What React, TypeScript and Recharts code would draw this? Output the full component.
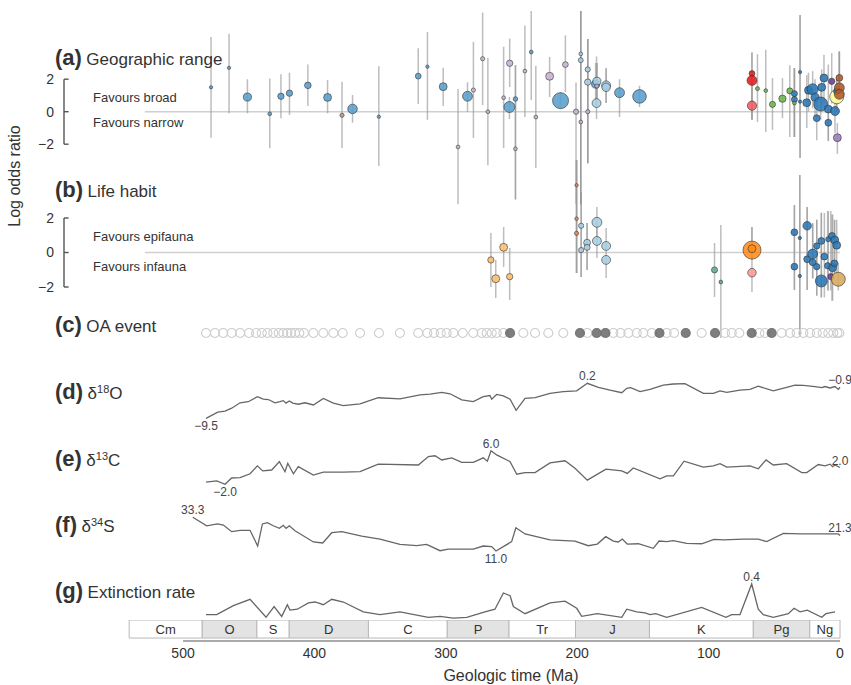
import React from "react";
import {
  ScatterChart,
  Scatter,
  LineChart,
  Line,
  ComposedChart,
  XAxis,
  YAxis,
  ZAxis,
  ErrorBar,
  Cell,
  ReferenceLine,
  ReferenceDot,
  ReferenceArea,
} from "recharts";

// ---------- data (ages in Ma) ----------

// geographic range: [age, log odds, lower, upper, weight, group]
type Pt = [number, number, number, number, number, string];

const geoRange: Pt[] = [
  [478.7, 1.5, -1.6, 4.6, 1, "blue"],
  [465, 2.7, -0.1, 4.8, 1, "blue"],
  [451, 0.9, -0.1, 2.0, 18, "blue"],
  [434, -0.13, -2.25, 2.05, 2, "blue"],
  [425.5, 0.95, -0.4, 2.3, 10, "blue"],
  [419, 1.14, -0.2, 2.4, 10, "blue"],
  [405, 1.62, 0.35, 2.9, 11, "blue"],
  [390, 0.88, -0.1, 1.95, 17, "blue"],
  [379, -0.22, -2.24, 1.85, 3, "taupe"],
  [371, 0.17, -0.68, 1.03, 26, "blue"],
  [351, -0.31, -3.34, 2.8, 1, "blue"],
  [321, 2.19, 0.48, 3.9, 8, "blue"],
  [314, 2.77, -0.5, 4.9, 1, "blue"],
  [302, 1.54, 0.35, 2.7, 17, "blue"],
  [290.7, -2.17, -5.7, 1.4, 2, "lilac"],
  [283.5, 0.95, -0.02, 1.82, 28, "blue"],
  [279, 1.33, -1.62, 4.3, 3, "lilac"],
  [272, 3.26, 0.41, 6.1, 3, "lilac"],
  [268, 0.0, -3.3, 3.3, 2, "lilac"],
  [256, 0.86, -2.23, 4.0, 2, "lilac"],
  [251.4, 2.98, 1.52, 4.5, 10, "lilac"],
  [251.6, 0.29, -0.45, 0.9, 35, "blue"],
  [247, 0.78, -5.4, 2.87, 4, "blue"],
  [247, -2.28, -5.4, 2.87, 2, "lilac"],
  [239.8, 2.5, -0.33, 5.3, 2, "lilac"],
  [235, 3.67, 0.72, 6.2, 2, "blue"],
  [231.5, -0.33, -3.46, 2.82, 2, "lilac"],
  [221, 2.18, 0.9, 3.37, 17, "lilac"],
  [212.7, 0.68, 0.2, 1.2, 77, "blue"],
  [209, 2.9, 1.2, 4.7, 8, "lilac"],
  [200.9, 0.0, -5.7, 1.8, 6, "lilac"],
  [197.3, 3.56, -5.7, 6.2, 2, "lightBlue"],
  [197.3, 3.17, -5.7, 6.2, 5, "lightBlue"],
  [197.3, -0.63, -5.7, 6.2, 2, "lilac"],
  [192, 2.6, -3.17, 4.47, 6, "lightBlue"],
  [192, 1.82, -3.17, 4.47, 10, "lightBlue"],
  [192, 0.0, -3.17, 4.47, 3, "lilac"],
  [186, 1.7, 0.4, 3.0, 18, "blue"],
  [185, 1.87, 0.8, 3.0, 18, "lightBlue"],
  [185, 1.58, 0.8, 3.0, 3, "lilac"],
  [185.3, 0.53, -0.45, 3.4, 22, "lightBlue"],
  [178, 1.62, 0.54, 2.68, 22, "lightBlue"],
  [178, 1.5, 0.54, 2.68, 20, "lightBlue"],
  [167.8, 1.17, -0.33, 2.0, 28, "blue"],
  [152.6, 0.94, 0.29, 1.6, 55, "blue"],
  [67, 2.35, -0.5, 3.65, 8, "red"],
  [67, 1.92, -0.5, 3.65, 28, "red"],
  [67, 0.37, -0.5, 1.5, 24, "salmon"],
  [62.8, 1.42, -0.63, 3.54, 2.5, "green"],
  [56.5, 1.3, -1.25, 3.82, 2, "green"],
  [51.4, 0.45, -1.12, 2.07, 9, "green"],
  [43.8, 0.8, -0.4, 2.07, 14, "green"],
  [38.2, 1.28, -1.56, 2.86, 9, "green"],
  [34.7, 1.11, -1.56, 2.68, 9, "darkBlue"],
  [34.7, 0.75, -1.56, 2.68, 9, "darkBlue"],
  [34.7, 0.53, -1.56, 2.68, 2, "green"],
  [30.4, 2.44, -2.85, 5.95, 1, "darkBlue"],
  [30.4, 0.62, -2.85, 5.95, 1, "darkBlue"],
  [25.3, 0.55, -1.0, 2.25, 17, "darkBlue"],
  [24, 1.32, 0.0, 2.4, 17, "darkBlue"],
  [20.8, 1.38, 0.2, 2.5, 35, "darkBlue"],
  [19, 0.89, -0.2, 2.0, 18, "darkBlue"],
  [17.7, -0.4, -1.76, 0.7, 12, "darkBlue"],
  [14.7, 0.47, -0.5, 1.4, 58, "darkBlue"],
  [13.9, 1.5, 0.3, 2.6, 17, "darkBlue"],
  [12.2, 2.07, 0.5, 3.5, 17, "darkBlue"],
  [8.9, -0.68, -1.8, 0.3, 12, "darkBlue"],
  [8.9, 0.16, -1.8, 2.9, 17, "darkBlue"],
  [6.3, 1.87, 0.5, 3.6, 10, "purple"],
  [3.8, 0.04, -1.3, 1.2, 22, "darkBlue"],
  [2.5, 0.92, 0.0, 2.0, 58, "yellow"],
  [2.5, 1.26, 0.0, 2.0, 10, "darkBlue"],
  [0.5, 2.08, 0.6, 3.7, 12, "brown"],
  [0.5, 1.47, 0.6, 3.7, 28, "brown"],
  [0.5, 1.07, 0.6, 3.7, 28, "brown"],
  [2, -1.6, -2.6, -0.7, 17, "lavender"],
];

// life habit: [age, log odds, lower, upper, weight, group]
const lifeHabit: Pt[] = [
  [265.7, -0.43, -2.0, 1.13, 10, "peach"],
  [256, 0.3, -0.84, 1.48, 17, "peach"],
  [262, -1.52, -2.64, -0.43, 17, "peach"],
  [251.4, -1.4, -2.75, 0.26, 10, "peach"],
  [200.5, 3.9, -1.19, 5.36, 1, "ochre"],
  [200.5, 1.96, -1.19, 5.36, 1.5, "ochre"],
  [200.5, 1.11, -1.19, 5.36, 3, "ochre"],
  [197, 1.55, -1.42, 3.5, 6, "lightBlue"],
  [197, 0.14, -1.42, 3.5, 6, "lightBlue"],
  [192.5, 0.57, -1.01, 1.71, 12, "lightBlue"],
  [192.5, 0.3, -1.01, 1.71, 9, "lightBlue"],
  [185, 1.75, 0.72, 2.64, 28, "lightBlue"],
  [185, 0.67, -0.32, 1.77, 22, "lightBlue"],
  [178, 0.38, 0.14, 1.42, 22, "lightBlue"],
  [178, -0.43, -1.48, 0.14, 22, "lightBlue"],
  [95.5, -1.01, -2.58, 0.55, 9, "teal"],
  [90.7, -1.71, -4.96, 1.59, 2, "teal"],
  [67, 0.14, -0.43, 1.48, 98, "orange"],
  [67, 0.22, -0.43, 1.48, 17, "orange"],
  [67, -1.17, -2.29, -0.4, 20, "pink"],
  [34.7, 1.17, -2.17, 2.75, 12, "darkBlue"],
  [30.6, 0.84, -4.9, 4.49, 1, "darkBlue"],
  [30.6, -1.36, -4.9, 4.49, 1, "darkBlue"],
  [34.7, -0.82, -2.17, 2.75, 12, "darkBlue"],
  [25, 1.55, -2.17, 2.64, 20, "darkBlue"],
  [25, -0.39, -2.17, 2.64, 12, "darkBlue"],
  [20.8, -0.09, -1.5, 1.7, 28, "darkBlue"],
  [20.8, -0.57, -1.5, 1.7, 12, "darkBlue"],
  [17.7, 0.38, -2.5, 1.9, 10, "darkBlue"],
  [17.7, -0.82, -2.5, 1.9, 10, "darkBlue"],
  [14.2, 0.67, -2.6, 2.3, 12, "darkBlue"],
  [14.2, -1.65, -2.6, 2.3, 42, "darkBlue"],
  [11.9, -0.24, -2.6, 2.3, 12, "darkBlue"],
  [8.9, 0.77, -2.2, 2.4, 6, "darkBlue"],
  [9.4, -0.77, -2.2, 2.4, 10, "darkBlue"],
  [6.1, 0.96, -2.8, 2.2, 12, "darkBlue"],
  [5.6, -0.88, -2.8, 2.2, 17, "darkBlue"],
  [4.3, -0.63, -1.2, 1.9, 12, "darkBlue"],
  [4, 0.72, -1.2, 1.9, 17, "darkBlue"],
  [2.5, 0.42, -1.2, 1.9, 17, "darkBlue"],
  [7, -1.4, -2.2, 2.4, 9, "purple"],
  [1.3, -1.55, -2.2, -0.6, 58, "tan"],
];

// ocean acidification events
const oaEvents = [
  482.5, 475.7, 469.4, 463, 456.6, 449.8, 444.4, 440.1, 435.8, 431.3, 427.2,
  423.7, 420.6, 417.8, 414.8, 411.5, 408, 400.8, 393.2, 385.6, 378.5, 365.3,
  350.9, 334.9, 321, 314.1, 309, 303.9, 299.4, 294.3, 287.1, 279.1, 272.7,
  268.9, 265.1, 261.3, 256.2, 241, 232.1, 222, 210.6, 192.3, 172.5, 167, 161,
  154.7, 149.7, 143.3, 131.9, 126.3, 105.3, 87.5, 82.4, 76.6, 61.4, 57.1, 44.4,
  38, 33, 27.9, 22.8, 17.7, 13.2, 8.9, 5.1, 2, 0.5,
];
const oaMajor = [251.1, 197.9, 185.2, 178.5, 137.4, 117.4, 95.1, 67.2, 52];

const d18O: [number, number][] = [
  [482.5, -9.5], [473.6, -7.8], [468, -7.5], [463, -6.7], [456.6, -5.2],
  [450.3, -4.9], [443.4, -3.5], [438.9, -4.2], [435.1, -4.3], [430, -5.2],
  [426.2, -4.9], [423.7, -4.6], [421.6, -5.3], [419.1, -4.7], [416.5, -5.3],
  [412.3, -5.6], [407.2, -5.2], [400.8, -5.8], [393.2, -4.0], [385.6, -5.3],
  [378, -6.0], [365.3, -5.5], [351.4, -3.8], [334.9, -4.1], [319.6, -3.0],
  [312, -2.8], [303.1, -2.3], [296.8, -2.7], [287.9, -4.4], [279.1, -4.9],
  [271.5, -3.5], [266.4, -3.2], [265.1, -4.2], [261.3, -2.9], [256.2, -3.3],
  [251.1, -4.2], [246.5, -7.3], [239.7, -4.0], [232.1, -3.8], [220.7, -2.6],
  [210.6, -2.1], [200.4, -1.9], [192.3, 0.2], [183.9, -0.9], [175, -1.7],
  [166.1, -2.4], [162.3, -1.2], [159.3, -1.0], [152.2, -2.1], [144.6, -1.5],
  [134.5, -0.3], [126.9, 0.0], [118, 0.1], [104, -2.6], [96.4, -2.6],
  [91.3, -1.9], [86.2, -2.3], [76.1, -1.7], [68.5, -1.5], [62.2, -0.6],
  [50.8, -1.9], [40.6, -0.9], [34.2, -0.3], [27.9, -0.4], [19, -0.7],
  [13.9, -1.0], [11.4, -0.7], [7.6, -1.1], [3.8, -0.7], [1.3, -1.5], [0, -0.9],
];

const d13C: [number, number][] = [
  [482.5, -1.5], [474.4, -1.2], [468, -2.0], [463, -0.5], [456.6, -0.4],
  [449, 0.5], [443.4, 2.4], [439.4, 1.2], [432.5, 1.4], [426.7, 3.4],
  [422.4, 1.0], [420.3, 3.0], [416, 0.5], [412.3, 2.2], [400.8, 0.2],
  [393.2, 0.9], [378, 0.9], [365.3, 1.0], [351.4, 2.8], [320.9, 2.6],
  [313.3, 4.6], [308.2, 4.8], [303.1, 3.8], [295.5, 4.3], [287.9, 3.2],
  [279.1, 3.2], [271.5, 4.3], [268.4, 3.5], [265.6, 6.0], [261.3, 5.0],
  [252.4, 3.6], [251.1, 3.4], [246, 0.4], [239.7, 0.8], [232.1, 0.8],
  [220.7, 3.1], [209.3, 3.6], [201.7, 1.8], [192.3, -1.0], [178.1, 1.6],
  [166.1, 1.2], [161.9, 0.6], [157.3, 1.9], [137, -0.7], [131.9, 0.0],
  [126.8, 0.0], [118.7, 3.5], [104, 2.1], [96.4, 2.4], [91.3, 2.9],
  [86.2, 2.1], [68.5, 2.4], [62.2, 1.7], [56.3, 3.8], [50.8, 2.6],
  [40.6, 2.9], [29.1, 0.8], [25.3, 0.8], [16.5, 2.7], [11.4, 2.4],
  [7.6, 2.8], [5.6, 2.2], [3.8, 2.6], [0, 2.0],
];

const d34S: [number, number][] = [
  [492.6, 33.3], [482, 27.7], [473.9, 28.9], [469.3, 28.2], [463, 23.8],
  [456.6, 24.7], [449, 24.7], [443.2, 14.3], [439.6, 28.9], [435.9, 29.7],
  [431.3, 27.7], [426.7, 26.0], [423.7, 28.0], [421.6, 26.0], [419.1, 27.7],
  [414.8, 24.4], [400.8, 17.0], [393.7, 16.3], [386.8, 23.1], [379.2, 23.8],
  [364, 20.9], [350.1, 18.9], [334.9, 15.4], [322.2, 14.5], [314.6, 15.4],
  [304.4, 11.2], [298.1, 12.3], [279.1, 12.3], [271.5, 14.3], [265.1, 13.9],
  [261.8, 11.0], [249.9, 17.2], [246.7, 26.4], [239.7, 22.3], [220.7, 18.3],
  [201.7, 17.6], [191.6, 14.5], [184.7, 15.6], [178.3, 20.5], [172.5, 17.6],
  [168.7, 17.0], [165.7, 18.9], [161.9, 15.6], [153.5, 15.8], [142.1, 12.8],
  [137.7, 17.6], [131.9, 17.2], [126.9, 17.8], [116.7, 16.1], [105.3, 15.8],
  [95.9, 18.7], [88.8, 18.3], [73.6, 18.9], [62.2, 18.9], [55.8, 17.2],
  [43.1, 22.7], [30.4, 22.3], [15.2, 22.3], [1.3, 22.3], [0, 21.3],
];

const extinction: [number, number][] = [
  [482.5, 0.06], [474.4, 0.06], [461.7, 0.16], [449, 0.23], [436.8, 0.03],
  [430.7, 0.15], [424.9, 0.04], [420.6, 0.17], [418.6, 0.11], [413, 0.12],
  [404.6, 0.19], [399.5, 0.2], [393.2, 0.17], [386.8, 0.23], [378, 0.2],
  [362.8, 0.09], [350.1, 0.06], [334.9, 0.09], [313.3, 0.03], [304.4, 0.04],
  [294.3, 0.02], [284.1, 0.03], [270.2, 0.09], [262.6, 0.12], [256.2, 0.3],
  [251.1, 0.27], [248.6, 0.15], [239.7, 0.07], [220.7, 0.19], [209.3, 0.21],
  [200.4, 0.13], [196.6, 0.04], [184.7, 0.07], [166.1, 0.03], [162.3, 0.12],
  [154.7, 0.09], [148.4, 0.08], [144.6, 0.06], [140.3, 0.07], [131.9, 0.03],
  [105.3, 0.14], [86.8, 0.03], [82.4, 0.06], [76.1, 0.06], [67.2, 0.4],
  [62.2, 0.12], [58.4, 0.06], [50.8, 0.03], [39.3, 0.07], [35, 0.13],
  [30.4, 0.09], [24.9, 0.11], [13.9, 0.03], [10.7, 0.07], [3.8, 0.09],
];

// geologic periods: [name, start, end]
const periods: [string, number, number][] = [
  ["Cm", 541, 485.4], ["O", 485.4, 443.8], ["S", 443.8, 419.2],
  ["D", 419.2, 358.9], ["C", 358.9, 298.9], ["P", 298.9, 251.9],
  ["Tr", 251.9, 201.3], ["J", 201.3, 145], ["K", 145, 66],
  ["Pg", 66, 23], ["Ng", 23, 0],
];

const timeTicks = [500, 400, 300, 200, 100, 0];
const oddsTicks = [-2, 0, 2];

// ---------- styling ----------

const FONT = '"Liberation Sans", Arial, Helvetica, sans-serif';
const TEXT = "#333";
const X_MAX = 590.6; // age at the left edge of the plotting area
const MARGIN = { top: 0, right: 11, bottom: 0, left: 0 };
const MARGIN_NO_Y = { top: 0, right: 11, bottom: 0, left: 64 };

const GROUP_FILL: Record<string, string> = {
  blue: "#5a9fcd",
  darkBlue: "#2a78b6",
  lightBlue: "#a6cee3",
  lilac: "#cab2d6",
  taupe: "#b59d95",
  red: "#e31a1c",
  salmon: "#f25c5e",
  green: "#6cb650",
  orange: "#ff8c1a",
  peach: "#fdbf6f",
  ochre: "#ef8a4c",
  pink: "#fb9a99",
  teal: "#5fae94",
  brown: "#b15928",
  yellow: "#ffff99",
  purple: "#6a3d9a",
  lavender: "#9a7cc0",
  tan: "#d6a95a",
};

const toRows = (pts: Pt[]) =>
  pts.map(([age, lor, lo, hi, w, group]) => ({
    age,
    lor,
    w,
    group,
    err: [lor - lo, hi - lor],
  }));

const toLine = (pts: [number, number][]) => pts.map(([age, v]) => ({ age, v }));

const fmt = (v: number) => v.toFixed(1).replace("-", "\u2212");

function OddsPanel({ top, height, domain, pts }: { top: number; height: number; domain: [number, number]; pts: Pt[] }) {
  const rows = toRows(pts);
  const bracket = "#555";
  return (
    <div style={{ position: "absolute", left: 0, top }}>
      <ScatterChart width={851} height={height} margin={MARGIN}>
        <XAxis type="number" dataKey="age" domain={[0, X_MAX]} reversed hide />
        <YAxis
          type="number"
          dataKey="lor"
          domain={domain}
          ticks={oddsTicks}
          width={64}
          axisLine={false}
          tickLine={false}
          tickSize={0}
          tickMargin={10}
          tickFormatter={(v: number) => (v < 0 ? `\u2212${-v}` : `${v}`)}
          tick={{ fontSize: 14, fill: TEXT }}
        />
        <ZAxis type="number" dataKey="w" domain={[0, 100]} range={[6, 260]} />
        <ReferenceLine
          segment={[{ x: 529, y: 0 }, { x: 0, y: 0 }]}
          stroke="#cfcfcf"
          strokeWidth={1.4}
          ifOverflow="visible"
        />
        <ReferenceLine segment={[{ x: X_MAX, y: -2 }, { x: X_MAX, y: 2 }]} stroke={bracket} strokeWidth={1.4} ifOverflow="visible" />
        {oddsTicks.map((t) => (
          <ReferenceLine
            key={t}
            segment={[{ x: X_MAX, y: t }, { x: X_MAX - 3.5, y: t }]}
            stroke={bracket}
            strokeWidth={1.4}
            ifOverflow="visible"
          />
        ))}
        <Scatter data={rows} isAnimationActive={false} stroke="#333" strokeWidth={0.6} fillOpacity={0.88}>
          {rows.map((r, i) => (
            <Cell key={i} fill={GROUP_FILL[r.group]} />
          ))}
          <ErrorBar dataKey="err" direction="y" width={0} stroke="#9a9a9a" strokeOpacity={0.65} strokeWidth={1.5} />
        </Scatter>
      </ScatterChart>
    </div>
  );
}

function ProxyPanel({
  top,
  height,
  domain,
  pts,
  marks,
}: {
  top: number;
  height: number;
  domain: [number, number];
  pts: [number, number][];
  marks: ("min" | "max" | "end")[];
}) {
  const rows = toLine(pts);
  const vals = rows.map((r) => r.v);
  const lo = Math.min(...vals);
  const hi = Math.max(...vals);
  const pick = {
    min: rows.find((r) => r.v === lo)!,
    max: rows.find((r) => r.v === hi)!,
    end: rows[rows.length - 1],
  };
  return (
    <div style={{ position: "absolute", left: 0, top }}>
      <LineChart width={851} height={height} data={rows} margin={MARGIN_NO_Y}>
        <XAxis type="number" dataKey="age" domain={[0, X_MAX]} reversed hide />
        <YAxis type="number" domain={domain} hide />
        <Line
          type="linear"
          dataKey="v"
          stroke="#666"
          strokeWidth={1.3}
          dot={false}
          isAnimationActive={false}
        />
        {marks.map((m) => (
          <ReferenceDot
            key={m}
            x={pick[m].age}
            y={pick[m].v}
            r={0}
            stroke="none"
            fill="none"
            ifOverflow="visible"
            label={{
              value: fmt(pick[m].v),
              position: m === "min" ? "bottom" : "top",
              offset: 3,
              fontSize: 12,
              fill: "#444",
            }}
          />
        ))}
      </LineChart>
    </div>
  );
}

function OaPanel() {
  const rows = [
    ...oaEvents.map((age) => ({ age, y: 0, major: false })),
    ...oaMajor.map((age) => ({ age, y: 0, major: true })),
  ];
  return (
    <div style={{ position: "absolute", left: 0, top: 318 }}>
      <ScatterChart width={851} height={30} margin={MARGIN_NO_Y}>
        <XAxis type="number" dataKey="age" domain={[0, X_MAX]} reversed hide />
        <YAxis type="number" dataKey="y" domain={[-1, 1]} hide />
        <ZAxis range={[56, 56]} />
        <Scatter data={rows} isAnimationActive={false} strokeWidth={1.1}>
          {rows.map((r, i) => (
            <Cell
              key={i}
              fill={r.major ? "#5e5e5e" : "#ffffff"}
              fillOpacity={r.major ? 0.8 : 0}
              stroke={r.major ? "#777" : "#cdcdcd"}
            />
          ))}
        </Scatter>
      </ScatterChart>
    </div>
  );
}

function TimeScale() {
  const mids = periods.map(([name, start, end]) => ({ name, age: (start + end) / 2, y: 0.57 }));
  return (
    <div style={{ position: "absolute", left: 0, top: 620 }}>
      <ComposedChart width={851} height={65} data={mids} margin={MARGIN_NO_Y}>
        <XAxis
          type="number"
          dataKey="age"
          domain={[0, X_MAX]}
          reversed
          ticks={timeTicks}
          interval={0}
          axisLine={false}
          tickLine={false}
          tickSize={0}
          tickMargin={7}
          height={44}
          tick={{ fontSize: 14, fill: TEXT }}
        />
        <YAxis type="number" dataKey="y" domain={[0, 1]} hide />
        {periods.map(([name, start, end], i) => (
          <ReferenceArea
            key={name}
            x1={start}
            x2={end}
            y1={0.14}
            y2={1}
            fill={i % 2 === 1 ? "#e3e3e3" : "#ffffff"}
            fillOpacity={1}
            stroke="#b8b8b8"
            strokeWidth={1}
            ifOverflow="visible"
            label={{ value: name, position: "center", fontSize: 13, fill: TEXT }}
          />
        ))}
        <ReferenceLine
          segment={[{ x: 500, y: 0 }, { x: 0, y: 0 }]}
          stroke="#555"
          strokeWidth={1.2}
          ifOverflow="visible"
        />
        <Scatter dataKey="y" isAnimationActive={false} shape={() => <g />} />
      </ComposedChart>
    </div>
  );
}

function Title({ tag, top, children }: { tag: string; top: number; children: React.ReactNode }) {
  return (
    <div style={{ position: "absolute", left: 55, top, lineHeight: "26px", whiteSpace: "nowrap", color: TEXT }}>
      <b style={{ fontSize: 22 }}>{tag}</b> <span style={{ fontSize: 17 }}>{children}</span>
    </div>
  );
}

function Note({ top, children }: { top: number; children: React.ReactNode }) {
  return (
    <div style={{ position: "absolute", left: 93, top, fontSize: 13, lineHeight: "16px", color: TEXT, whiteSpace: "nowrap" }}>
      {children}
    </div>
  );
}

const sup = { fontSize: 11, verticalAlign: "6px", lineHeight: 0 } as const;

export default function App() {
  return (
    <div
      style={{
        position: "absolute",
        left: 0,
        top: 0,
        width: 851,
        height: 685,
        background: "#fff",
        fontFamily: FONT,
        overflow: "hidden",
      }}
    >
      <OddsPanel top={0} height={220} domain={[-6.665, 6.874]} pts={geoRange} />
      <OddsPanel top={150} height={200} domain={[-5.652, 5.942]} pts={lifeHabit} />
      <OaPanel />
      <ProxyPanel top={370} height={66} domain={[-14.4, 3.88]} pts={d18O} marks={["min", "max", "end"]} />
      <ProxyPanel top={435} height={65} domain={[-5.74, 9.74]} pts={d13C} marks={["min", "max", "end"]} />
      <ProxyPanel top={500} height={70} domain={[-1.57, 44.75]} pts={d34S} marks={["min", "max", "end"]} />
      <ProxyPanel top={565} height={55} domain={[0, 0.611]} pts={extinction} marks={["max"]} />
      <TimeScale />

      <Title tag="(a)" top={45}>Geographic range</Title>
      <Note top={90}>Favours broad</Note>
      <Note top={115}>Favours narrow</Note>
      <Title tag="(b)" top={177}>Life habit</Title>
      <Note top={229}>Favours epifauna</Note>
      <Note top={259}>Favours infauna</Note>
      <Title tag="(c)" top={312}>OA event</Title>
      <Title tag="(d)" top={379}>
        δ<span style={sup}>18</span>O
      </Title>
      <Title tag="(e)" top={446}>
        δ<span style={sup}>13</span>C
      </Title>
      <Title tag="(f)" top={512}>
        δ<span style={sup}>34</span>S
      </Title>
      <Title tag="(g)" top={578}>Extinction rate</Title>

      <div
        style={{
          position: "absolute",
          left: -60,
          top: 166,
          width: 150,
          textAlign: "center",
          fontSize: 16,
          lineHeight: "20px",
          color: TEXT,
          transform: "rotate(-90deg)",
        }}
      >
        Log odds ratio
      </div>
      <div
        style={{
          position: "absolute",
          left: 411,
          top: 666,
          width: 200,
          textAlign: "center",
          fontSize: 16,
          lineHeight: "20px",
          color: TEXT,
        }}
      >
        Geologic time (Ma)
      </div>
    </div>
  );
}
